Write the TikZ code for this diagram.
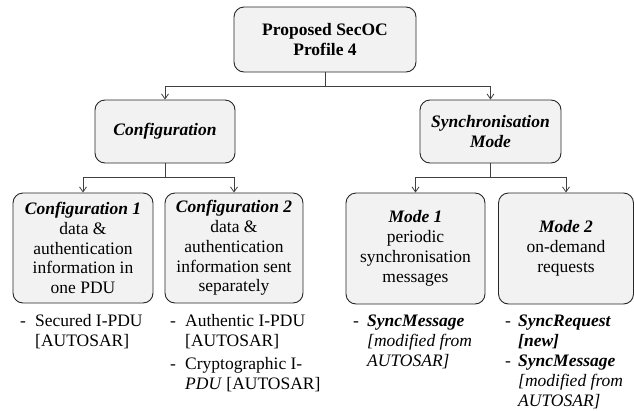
\documentclass[tikz,border=0pt]{standalone}
\usepackage{fontspec}
\setmainfont{LiberationSerif}[Extension=.ttf,UprightFont=*-Regular,BoldFont=*-Bold,ItalicFont=*-Italic,BoldItalicFont=*-BoldItalic]
\usetikzlibrary{arrows.meta}
\definecolor{boxfill}{HTML}{F2F2F2}
\definecolor{boxline}{HTML}{262626}
\definecolor{connline}{HTML}{404040}
\begin{document}
\begin{tikzpicture}[x=1pt,y=-1pt,
  box/.style={draw=boxline, line width=0.9pt, fill=boxfill, rounded corners=10pt,
    align=center, inner sep=0pt, font=\fontsize{17.5}{19.8}\selectfont},
  link/.style={draw=connline, line width=0.8pt},
  conn/.style={link, -{Straight Barb[length=5pt,width=7pt]}},
  lst/.style={anchor=base west, inner sep=0pt, font=\fontsize{17.5}{20}\selectfont}
]
\useasboundingbox (0,0) rectangle (634,410);

% boxes
\node[box, minimum width=182pt, minimum height=65pt] (root) at (325,39.5)
  {\textbf{Proposed SecOC}\\\textbf{Profile 4}};
\node[box, minimum width=140pt, minimum height=63pt] (cfg) at (165,131.5)
  {\textbf{\textit{Configuration}}};
\node[box, minimum width=141pt, minimum height=63pt] (sync) at (490.5,131.5)
  {\textbf{\textit{Synchronisation}}\\\textbf{\textit{Mode}}};
\node[box, minimum width=140pt, minimum height=110pt] (c1) at (83,248)
  {\textbf{\textit{Configuration 1}}\\data \&\\authentication\\information in\\one PDU};
\node[box, minimum width=138pt, minimum height=110pt] (c2) at (234,248)
  {\textbf{\textit{Configuration 2}}\\data \&\\authentication\\information sent\\separately};
\node[box, minimum width=139pt, minimum height=111pt] (m1) at (415.5,248.5)
  {\textbf{\textit{Mode 1}}\\periodic\\synchronisation\\messages};
\node[box, minimum width=135pt, minimum height=111pt] (m2) at (566,248.5)
  {\textbf{\textit{Mode 2}}\\on-demand\\requests};

% connectors
\coordinate (j0) at ([yshift=-14pt]root.south);
\draw[link] (root.south) -- (j0);
\draw[conn] (j0) -| (cfg.north);
\draw[conn] (j0) -| (sync.north);
\coordinate (j1) at ([yshift=-14pt]cfg.south);
\draw[link] (cfg.south) -- (j1);
\draw[conn] (j1) -| (c1.north);
\draw[conn] (j1) -| (c2.north);
\coordinate (j2) at ([yshift=-14pt]sync.south);
\draw[link] (sync.south) -- (j2);
\draw[conn] (j2) -| (m1.north);
\draw[conn] (j2) -| (m2.north);

% lists
\node[lst] (l1) at (20,326) {\begin{tabular}[t]{@{}p{15pt}@{}l@{}}
  - & Secured I-PDU\\ & [AUTOSAR]\end{tabular}};
\node[lst] (l2) at (170,326) {\begin{tabular}[t]{@{}p{15pt}@{}l@{}}
  - & Authentic I-PDU\\ & [AUTOSAR]\\[3pt]
  - & Cryptographic I-\\ & \textit{PDU} [AUTOSAR]\end{tabular}};
\node[lst] (l3) at (353,326) {\begin{tabular}[t]{@{}p{14pt}@{}l@{}}
  - & \textbf{\textit{SyncMessage}}\\ & \textit{[modified from}\\ & \textit{AUTOSAR]}\end{tabular}};
\node[lst] (l4) at (505,326) {\begin{tabular}[t]{@{}p{13pt}@{}l@{}}
  - & \textbf{\textit{SyncRequest}}\\ & \textbf{\textit{[new]}}\\
  - & \textbf{\textit{SyncMessage}}\\ & \textit{[modified from}\\ & \textit{AUTOSAR]}\end{tabular}};
\end{tikzpicture}
\end{document}
